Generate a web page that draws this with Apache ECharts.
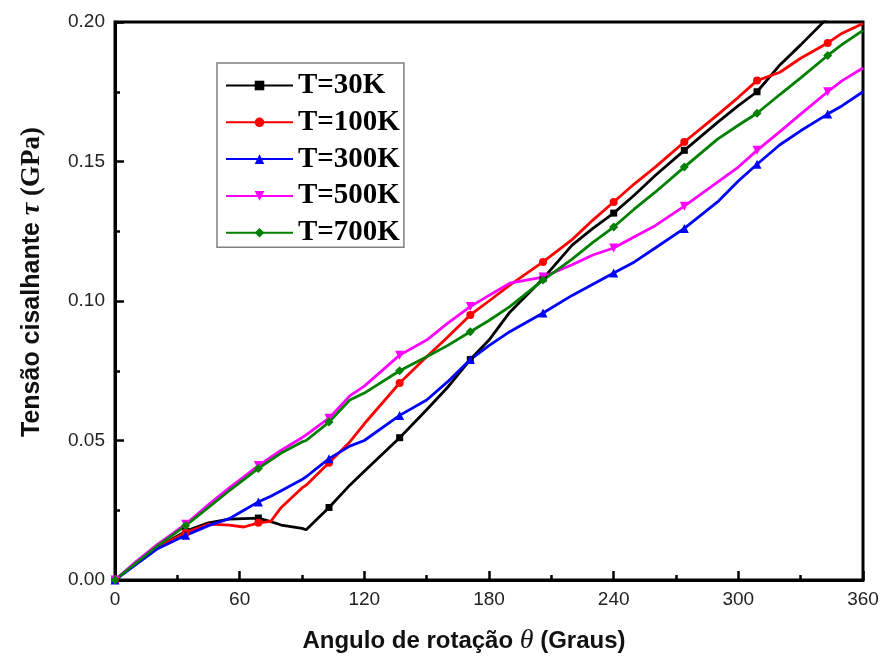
<!DOCTYPE html>
<html lang="pt">
<head>
<meta charset="UTF-8">
<title>Tensão cisalhante x ângulo de rotação</title>
<script src="https://cdn.jsdelivr.net/npm/echarts@6.0.0/dist/echarts.min.js"></script>
<style>
  html, body { margin: 0; padding: 0; background: #fff; }
  #chart { width: 885px; height: 660px; }
</style>
</head>
<body>
<div id="chart"></div>
<script>
// angulo de rotacao (graus)
var theta = [0, 10, 20, 34, 45, 55, 62, 69, 75, 80, 90, 92, 103, 113, 120, 137, 150, 160, 171, 180,
             190, 206, 220, 230, 240, 250, 260, 274, 290, 300, 309, 320, 330, 343, 350, 360];
// angulos onde aparecem os simbolos
var markerAngles = [0, 34, 69, 103, 137, 171, 206, 240, 274, 309, 343];

// tensao cisalhante (GPa)
var t30 = [0, 0.006, 0.0115, 0.0175, 0.0205, 0.0218, 0.022, 0.0222, 0.0209, 0.0197, 0.0185, 0.018,
           0.026, 0.034, 0.039, 0.051, 0.061, 0.069, 0.079, 0.086, 0.096, 0.108, 0.120, 0.126,
           0.1315, 0.138, 0.145, 0.154, 0.164, 0.170, 0.175, 0.1846, 0.1918, 0.2015, 0.206, 0.213];
var t100 = [0, 0.006, 0.0115, 0.017, 0.020, 0.0197, 0.019, 0.0205, 0.021, 0.026, 0.033, 0.034,
            0.042, 0.0495, 0.056, 0.0706, 0.080, 0.087, 0.095, 0.100, 0.1057, 0.114, 0.122, 0.129,
            0.1355, 0.142, 0.148, 0.157, 0.1667, 0.173, 0.179, 0.182, 0.187, 0.1925, 0.196, 0.1995];
var t300 = [0, 0.0055, 0.011, 0.016, 0.0195, 0.022, 0.025, 0.028, 0.030, 0.032, 0.036, 0.037,
            0.0435, 0.048, 0.050, 0.059, 0.0645, 0.071, 0.079, 0.084, 0.089, 0.0957, 0.102, 0.106,
            0.110, 0.114, 0.119, 0.126, 0.1355, 0.143, 0.149, 0.156, 0.161, 0.167, 0.170, 0.175];
var t500 = [0, 0.0065, 0.0125, 0.020, 0.027, 0.033, 0.037, 0.041, 0.044, 0.0465, 0.051, 0.052,
            0.058, 0.066, 0.0695, 0.0806, 0.086, 0.092, 0.098, 0.102, 0.1064, 0.1086, 0.113, 0.1165,
            0.119, 0.123, 0.127, 0.134, 0.1426, 0.148, 0.154, 0.1607, 0.167, 0.175, 0.179, 0.1835];
var t700 = [0, 0.006, 0.012, 0.0195, 0.026, 0.032, 0.036, 0.040, 0.043, 0.0455, 0.0495, 0.050,
            0.0566, 0.0645, 0.067, 0.075, 0.080, 0.084, 0.089, 0.093, 0.098, 0.1075, 0.115, 0.121,
            0.1265, 0.133, 0.139, 0.148, 0.158, 0.163, 0.1673, 0.174, 0.180, 0.188, 0.192, 0.197];

var names = ['T=30K', 'T=100K', 'T=300K', 'T=500K', 'T=700K'];
var colors = ['#000000', '#ff0000', '#0000ff', '#ff00ff', '#008000'];
var symbols = ['rect', 'circle', 'triangle', 'triangle', 'diamond'];
var symbolRot = [0, 0, 0, 180, 0];
var symbolSizes = [7, 8, 9, 9, 9];
var values = [t30, t100, t300, t500, t700];

// so os pontos de markerAngles levam simbolo
function buildData(vals) {
    return theta.map(function (x, i) {
        if (markerAngles.indexOf(x) >= 0) return [x, vals[i]];
        return { value: [x, vals[i]], symbol: 'none' };
    });
}

var chart = echarts.init(document.getElementById('chart'));

var series = names.map(function (n, k) {
    return {
        name: n,
        type: 'line',
        data: buildData(values[k]),
        symbol: symbols[k],
        symbolSize: symbolSizes[k],
        symbolRotate: symbolRot[k],
        showSymbol: true,
        clip: true,
        lineStyle: { color: colors[k], width: 2.8 },
        itemStyle: { color: colors[k], borderWidth: 0 },
        animation: false
    };
});

var option = {
    backgroundColor: '#fff',
    animation: false,
    grid: {
        left: 115, right: 22, top: 22, bottom: 80,
        show: true, borderColor: '#000', borderWidth: 3, backgroundColor: 'transparent'
    },
    legend: {
        orient: 'vertical',
        left: 217, top: 63,
        padding: [8, 4, 0, 8],
        itemWidth: 67, itemHeight: 12,
        itemGap: 7.8,
        borderColor: '#808080', borderWidth: 1.5,
        backgroundColor: '#fff',
        textStyle: {
            fontFamily: 'Liberation Serif', fontWeight: 'bold', fontSize: 29,
            color: '#000', lineHeight: 28
        },
        data: names
    },
    xAxis: {
        type: 'value',
        min: 0, max: 360, interval: 60,
        axisLine: { show: true, onZero: false, lineStyle: { color: '#000', width: 3 } },
        axisTick: { show: true, inside: true, length: 9, lineStyle: { color: '#000', width: 2.5 } },
        minorTick: { show: true, splitNumber: 2, length: 5, lineStyle: { color: '#000', width: 2.5 } },
        axisLabel: { fontFamily: 'Liberation Sans', fontSize: 19, color: '#222', margin: 10 },
        splitLine: { show: false }
    },
    yAxis: {
        type: 'value',
        min: 0, max: 0.2, interval: 0.05,
        axisLine: { show: true, onZero: false, lineStyle: { color: '#000', width: 3 } },
        axisTick: { show: true, inside: true, length: 9, lineStyle: { color: '#000', width: 2.5 } },
        minorTick: { show: true, splitNumber: 2, length: 5, lineStyle: { color: '#000', width: 2.5 } },
        axisLabel: {
            fontFamily: 'Liberation Sans', fontSize: 19, color: '#222', margin: 10,
            formatter: function (v) { return v.toFixed(2); }
        },
        splitLine: { show: false }
    },
    graphic: [
        {
            type: 'text',
            x: 464, y: 641,
            style: {
                text: '{b|Angulo de rotação }{i|θ}{b| (Graus)}',
                align: 'center', verticalAlign: 'middle',
                rich: {
                    b: { fontFamily: 'Liberation Sans', fontWeight: 'bold', fontSize: 24, fill: '#111' },
                    i: { fontFamily: 'Liberation Serif', fontStyle: 'italic', fontSize: 28, fill: '#111' }
                }
            }
        },
        {
            type: 'text',
            x: 32, y: 282,
            rotation: Math.PI / 2,
            style: {
                text: '{b|Tensão cisalhante }{i|τ}{s| (GPa)}',
                align: 'center', verticalAlign: 'middle',
                rich: {
                    b: { fontFamily: 'Liberation Sans', fontWeight: 'bold', fontSize: 25, fill: '#111' },
                    i: { fontFamily: 'Liberation Serif', fontStyle: 'italic', fontWeight: 'bold', fontSize: 28, fill: '#111' },
                    s: { fontFamily: 'Liberation Serif', fontWeight: 'bold', fontSize: 27, fill: '#111' }
                }
            }
        }
    ],
    series: series
};

chart.setOption(option);
</script>
</body>
</html>
